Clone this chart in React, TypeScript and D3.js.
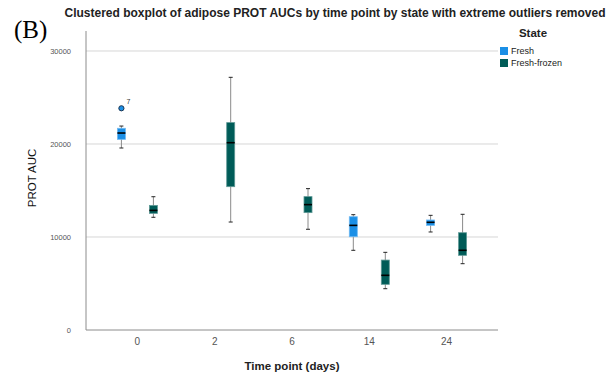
import { useEffect, useRef } from "react";
import * as d3 from "d3";

// 時点 × 状態 の箱ひげ図データ
const TIMEPOINTS = ["0", "2", "6", "14", "24"];
const STATES = ["Fresh", "Fresh-frozen"];
const Y_TICKS = [0, 10000, 20000, 30000];

// 箱ごと: time, state, whiskerLow, q1, median, q3, whiskerHigh
const BOX_TIME = ["0", "0", "2", "6", "14", "14", "24", "24"];
const BOX_STATE = ["Fresh", "Fresh-frozen", "Fresh-frozen", "Fresh-frozen", "Fresh", "Fresh-frozen", "Fresh", "Fresh-frozen"];
const BOX_LOW = [19570, 12120, 11610, 10830, 8570, 4440, 10540, 7130];
const BOX_Q1 = [20500, 12540, 15410, 12620, 10030, 4910, 11250, 8030];
const BOX_MED = [21180, 12860, 20140, 13480, 11250, 5880, 11580, 8570];
const BOX_Q3 = [21690, 13400, 22300, 14340, 12180, 7520, 11830, 10460];
const BOX_HIGH = [21930, 14330, 27170, 15200, 12400, 8350, 12330, 12440];

const OUT_TIME = ["0"];
const OUT_STATE = ["Fresh"];
const OUT_VALUE = [23840];
const OUT_LABEL = ["7"];

const COLORS: Record<string, string> = { Fresh: "#1b8fe6", "Fresh-frozen": "#005c58" };
const EDGE: Record<string, string> = { Fresh: "#6fb9f2", "Fresh-frozen": "#5f9996" };

const W = 615;
const H = 377;
const M = { left: 86, right: 498, top: 31, bottom: 330 };
const FONT = "'Liberation Sans', Arial, sans-serif";

export default function App() {
  const ref = useRef<SVGSVGElement>(null);

  useEffect(() => {
    if (!ref.current) return;
    const svg = d3.select(ref.current);
    svg.selectAll("*").remove();

    const y = d3.scaleLinear().domain([0, 32150]).range([M.bottom, M.top]);
    const x = d3.scaleBand<string>().domain(TIMEPOINTS).range([M.left, M.right]).paddingInner(0).paddingOuter(0.165);
    const xs = d3.scalePoint<string>().domain(STATES).range([-16, 16]);
    const boxW = 8;

    // グリッド
    svg.append("g").selectAll("line").data(Y_TICKS.filter((t) => t > 0)).join("line")
      .attr("x1", M.left).attr("x2", M.right)
      .attr("y1", (d) => y(d)).attr("y2", (d) => y(d))
      .attr("stroke", "#d6d6d6").attr("stroke-width", 1);

    // 軸
    svg.append("line").attr("x1", M.left).attr("x2", M.left).attr("y1", M.top).attr("y2", M.bottom)
      .attr("stroke", "#8c8c8c");
    svg.append("line").attr("x1", M.left).attr("x2", M.right).attr("y1", M.bottom).attr("y2", M.bottom)
      .attr("stroke", "#8c8c8c");

    svg.append("g").selectAll("text").data(Y_TICKS).join("text")
      .attr("x", 71).attr("y", (d) => y(d)).attr("dy", "0.35em")
      .attr("text-anchor", "end").attr("font-size", 7.5).attr("fill", "#555")
      .attr("font-family", FONT).text((d) => String(d));

    svg.append("g").selectAll("text").data(TIMEPOINTS).join("text")
      .attr("x", (d) => x(d)! + x.bandwidth() / 2).attr("y", 345)
      .attr("text-anchor", "middle").attr("font-size", 10).attr("fill", "#555")
      .attr("font-family", FONT).text((d) => d);

    // 箱ひげ
    const cx = (t: string, s: string) => x(t)! + x.bandwidth() / 2 + xs(s)!;
    const boxes = svg.append("g").selectAll("g").data(d3.range(BOX_TIME.length)).join("g");
    boxes.append("line")
      .attr("x1", (i) => cx(BOX_TIME[i], BOX_STATE[i])).attr("x2", (i) => cx(BOX_TIME[i], BOX_STATE[i]))
      .attr("y1", (i) => y(BOX_LOW[i])).attr("y2", (i) => y(BOX_HIGH[i]))
      .attr("stroke", "#8a8a8a").attr("stroke-width", 1);
    [BOX_LOW, BOX_HIGH].forEach((arr) => {
      boxes.append("line")
        .attr("x1", (i) => cx(BOX_TIME[i], BOX_STATE[i]) - 2).attr("x2", (i) => cx(BOX_TIME[i], BOX_STATE[i]) + 2)
        .attr("y1", (i) => y(arr[i])).attr("y2", (i) => y(arr[i]))
        .attr("stroke", "#222").attr("stroke-width", 1);
    });
    boxes.append("rect")
      .attr("x", (i) => cx(BOX_TIME[i], BOX_STATE[i]) - boxW / 2)
      .attr("y", (i) => y(BOX_Q3[i]))
      .attr("width", boxW).attr("height", (i) => y(BOX_Q1[i]) - y(BOX_Q3[i]))
      .attr("fill", (i) => COLORS[BOX_STATE[i]]).attr("stroke", (i) => EDGE[BOX_STATE[i]]).attr("stroke-width", 0.8);
    boxes.append("line")
      .attr("x1", (i) => cx(BOX_TIME[i], BOX_STATE[i]) - boxW / 2).attr("x2", (i) => cx(BOX_TIME[i], BOX_STATE[i]) + boxW / 2)
      .attr("y1", (i) => y(BOX_MED[i])).attr("y2", (i) => y(BOX_MED[i]))
      .attr("stroke", "#000").attr("stroke-width", 1.6);

    // 外れ値
    OUT_VALUE.forEach((v, i) => {
      const px = cx(OUT_TIME[i], OUT_STATE[i]);
      svg.append("circle").attr("cx", px).attr("cy", y(v)).attr("r", 2.6)
        .attr("fill", COLORS[OUT_STATE[i]]).attr("stroke", "#1d3550").attr("stroke-width", 1);
      svg.append("text").attr("x", px + 5).attr("y", y(v) - 4).attr("font-size", 7)
        .attr("font-family", FONT).attr("fill", "#333").text(OUT_LABEL[i]);
    });

    // タイトル・軸ラベル
    svg.append("text").attr("x", 335).attr("y", 17).attr("text-anchor", "middle")
      .attr("font-family", FONT).attr("font-weight", 700).attr("font-size", 12).attr("fill", "#222")
      .text("Clustered boxplot of adipose PROT AUCs by time point by state with extreme outliers removed");
    svg.append("text").attr("x", 14).attr("y", 38)
      .attr("font-family", "'Liberation Serif', 'Times New Roman', serif").attr("font-size", 25).attr("fill", "#000")
      .text("(B)");
    svg.append("text").attr("transform", `translate(36,178) rotate(-90)`).attr("text-anchor", "middle")
      .attr("font-family", FONT).attr("font-size", 11.5).attr("fill", "#111")
      .text("PROT AUC");
    svg.append("text").attr("x", 292).attr("y", 370).attr("text-anchor", "middle")
      .attr("font-family", FONT).attr("font-size", 11.5).attr("font-weight", 700).attr("fill", "#222")
      .text("Time point (days)");

    // 凡例
    svg.append("text").attr("x", 533).attr("y", 37).attr("text-anchor", "middle")
      .attr("font-family", FONT).attr("font-size", 11.5).attr("font-weight", 700).attr("fill", "#222")
      .text("State");
    const lg = svg.append("g").selectAll("g").data(STATES).join("g")
      .attr("transform", (_d, i) => `translate(500,${47 + i * 12})`);
    lg.append("rect").attr("width", 8).attr("height", 8).attr("fill", (d) => COLORS[d]);
    lg.append("text").attr("x", 11).attr("y", 4).attr("dy", "0.35em")
      .attr("font-family", FONT).attr("font-size", 9).attr("fill", "#222").text((d) => d);
  }, []);

  return (
    <svg ref={ref} width={W} height={H} viewBox={`0 0 ${W} ${H}`}
      style={{ position: "absolute", left: 0, top: 0, background: "#fff" }} />
  );
}
